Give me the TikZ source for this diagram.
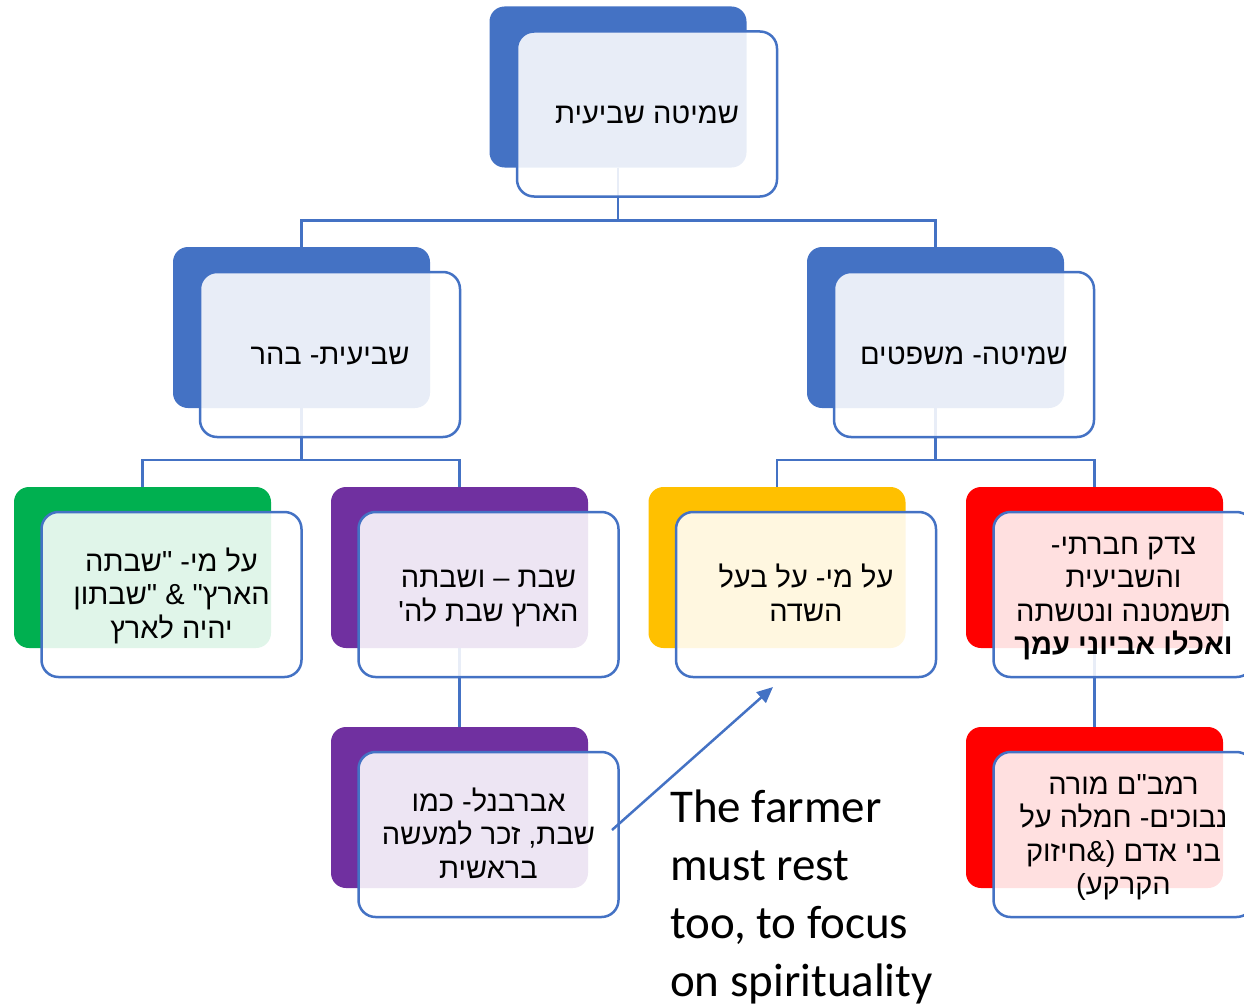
\documentclass[tikz,border=0pt]{standalone}
\usepackage{fontspec}
\usetikzlibrary{arrows.meta}
\TeXXeTstate=1
\newfontfamily\heb[Script=Hebrew]{Liberation Sans}
\newfontfamily\engfont{Carlito}
\definecolor{sblue}{HTML}{4472C4}
\definecolor{sgreen}{HTML}{00B050}
\definecolor{spurple}{HTML}{7030A0}
\definecolor{syellow}{HTML}{FFC000}
\definecolor{sred}{HTML}{FF0000}
\newcommand\tstr{\rule{0pt}{30pt}}
\newcommand\bstr{\rule[-10pt]{0pt}{0pt}}
\tikzset{
  backbox/.style={draw=none, fill=#1, rounded corners=15pt, minimum width=257pt, minimum height=161pt, inner sep=0pt},
  frontbox/.style={draw=sblue, line width=2.5pt, fill=white, fill opacity=0.88, text opacity=1, rounded corners=17pt, minimum width=260pt, minimum height=165pt, inner sep=4pt, align=center, font=\heb\fontsize{29}{33.5}\selectfont, text=black},
  conn/.style={draw=sblue, line width=2.5pt},
  pointer/.style={draw=sblue, line width=2.5pt, -{Triangle[length=16pt,width=14pt]}},
}
\begin{document}
\begin{tikzpicture}[x=1pt,y=-1pt]
\useasboundingbox (0,0) rectangle (1244,1006);
\clip (0,0) rectangle (1244,1006);
% back boxes
\node[backbox=sblue] (b0) at (618,87) {};
\node[backbox=sblue] (b1) at (301.5,327.5) {};
\node[backbox=sblue] (b2) at (935.5,327.5) {};
\node[backbox=sgreen] (b3g) at (142.5,567.5) {};
\node[backbox=spurple] (b3p) at (459.5,567.5) {};
\node[backbox=syellow] (b3y) at (777,567.5) {};
\node[backbox=sred] (b3r) at (1094.5,567.5) {};
\node[backbox=spurple] (b4p) at (459.5,807.5) {};
\node[backbox=sred] (b4r) at (1094.5,807.5) {};
% connectors
\draw[conn] (b0.south) -- ++(0,53) -| (b1.north);
\draw[conn] (b0.south) -- ++(0,53) -| (b2.north);
\draw[conn] (b1.south) -- ++(0,52) -| (b3g.north);
\draw[conn] (b1.south) -- ++(0,52) -| (b3p.north);
\draw[conn] (b2.south) -- ++(0,52) -| (b3y.north);
\draw[conn] (b2.south) -- ++(0,52) -| (b3r.north);
\draw[conn] (b3p.south) -- (b4p.north);
\draw[conn] (b3r.south) -- (b4r.north);
% front boxes
\node[frontbox] (f0) at (647,114) {\tstr\beginR שמיטה שביעית\endR\bstr};
\node[frontbox] (f1) at (330,354.5) {\tstr\beginR שביעית- בהר\endR\bstr};
\node[frontbox] (f2) at (964,354.5) {\tstr\beginR שמיטה- משפטים\endR\bstr};
\node[frontbox] (f3g) at (171.5,594.5) {\tstr\beginR על מי- "שבתה\endR\\\beginR הארץ" \& "שבתון\endR\\\beginR יהיה לארץ\endR\bstr};
\node[frontbox] (f3p) at (488.5,594.5) {\tstr\beginR שבת – ושבתה\endR\\\beginR הארץ שבת לה'\endR\bstr};
\node[frontbox] (f3y) at (806,594.5) {\tstr\beginR על מי- על בעל\endR\\\beginR השדה\endR\bstr};
\node[frontbox] (f3r) at (1123.5,594.5) {\tstr\beginR צדק חברתי-\endR\\\beginR והשביעית\endR\\\beginR תשמטנה ונטשתה\endR\\\beginR\bfseries ואכלו אביוני עמך\endR\bstr};
\node[frontbox] (f4p) at (488.5,834.5) {\tstr\beginR אברבנל- כמו\endR\\\beginR שבת, זכר למעשה\endR\\\beginR בראשית\endR\bstr};
\node[frontbox] (f4r) at (1123.5,834.5) {\tstr\beginR רמב"ם מורה\endR\\\beginR נבוכים- חמלה על\endR\\\beginR בני אדם (\&חיזוק\endR\\\beginR הקרקע)\endR\bstr};
% arrow and note
\coordinate (arrS) at (612,830);
\coordinate (arrE) at (773,687);
\draw[pointer] (arrS) -- (arrE);
\node[anchor=base west, align=left, inner sep=0pt, font=\engfont\fontsize{47}{57.7}\selectfont] (note) at (670,996) {The farmer\\must rest\\too, to focus\\on spirituality};
\end{tikzpicture}
\end{document}
